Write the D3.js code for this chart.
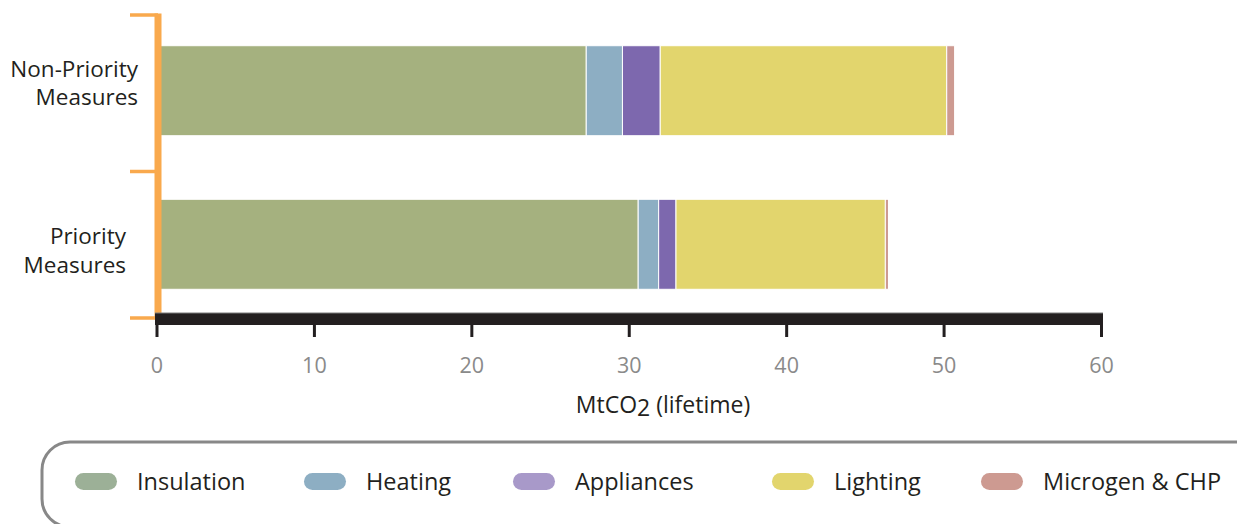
<!DOCTYPE html>
<html>
<head>
<meta charset="utf-8">
<script src="https://cdn.jsdelivr.net/npm/d3@7"></script>
<style>
  html, body { margin: 0; padding: 0; background: #fff; }
  svg { display: block; font-family: "Open Sans", "Noto Sans", sans-serif; }
</style>
</head>
<body>
<svg id="chart" width="1237" height="524"></svg>
<script>
// Lifetime carbon savings by measure group (MtCO2)
const categories = ["Non-Priority Measures", "Priority Measures"];
const seriesNames = ["Insulation", "Heating", "Appliances", "Lighting", "Microgen & CHP"];
const insulation = [27.3, 30.6];
const heating    = [2.3, 1.3];
const appliances = [2.4, 1.1];
const lighting   = [18.2, 13.3];
const microgen   = [0.5, 0.2];
const xTicks = [0, 10, 20, 30, 40, 50, 60];
const xDomain = [0, 60];

// styling
const barColors    = ["#a5b17f", "#8daec3", "#7d68ae", "#e2d56d", "#cd9a91"];
const legendColors = ["#9cb097", "#8daec3", "#a899c9", "#e2d56d", "#cd9a91"];
const legendX = [75, 304, 513, 772, 981];
const labelShift = [{dx: 0, dy: -14}, {dx: -12, dy: 0}];
const ink = "#231f20";
const orange = "#f9a94d";

const svg = d3.select("#chart");
const x = d3.scaleLinear().domain(xDomain).range([156.5, 1101]);
const y = d3.scaleBand().domain(categories).range([15, 320])
  .paddingInner(0.414).paddingOuter(0.2);

// stacked rows
const rows = categories.map((c, i) => ({
  category: c,
  Insulation: insulation[i],
  Heating: heating[i],
  Appliances: appliances[i],
  Lighting: lighting[i],
  "Microgen & CHP": microgen[i]
}));
const stacked = d3.stack().keys(seriesNames)(rows);

svg.append("g").selectAll("g")
  .data(stacked)
  .join("g")
  .attr("fill", (d, i) => barColors[i])
  .selectAll("rect")
  .data(d => d)
  .join("rect")
  .attr("x", d => x(d[0]))
  .attr("width", d => x(d[1]) - x(d[0]))
  .attr("y", d => y(d.data.category))
  .attr("height", y.bandwidth())
  .attr("stroke", "#fff")
  .attr("stroke-width", 1);

// bracket on the left
const yTop = y.range()[0], yBot = y.range()[1] - 2;
const yMid = (y(categories[0]) + y.bandwidth() + y(categories[1])) / 2 + 4;
const bx = 158;
const br = svg.append("g").attr("stroke", orange).attr("fill", "none");
br.append("line").attr("x1", bx).attr("x2", bx).attr("y1", yTop - 1.5).attr("y2", yBot + 1.5).attr("stroke-width", 7);
br.append("line").attr("x1", 130).attr("x2", bx).attr("y1", yTop).attr("y2", yTop).attr("stroke-width", 3.5);
br.append("line").attr("x1", 130).attr("x2", bx).attr("y1", yMid).attr("y2", yMid).attr("stroke-width", 3.5);
br.append("line").attr("x1", 130).attr("x2", bx).attr("y1", yBot).attr("y2", yBot).attr("stroke-width", 3.5);

// category labels
const lab = svg.append("g").attr("fill", ink).attr("font-size", 22.5).attr("text-anchor", "end");
categories.forEach((c, i) => {
  const words = c.split(" ");
  const cy = y(c) + y.bandwidth() / 2;
  const t = lab.append("text")
    .attr("x", 138 + labelShift[i].dx)
    .attr("y", cy + labelShift[i].dy);
  t.append("tspan").attr("x", 138 + labelShift[i].dx).text(words[0]);
  t.append("tspan").attr("x", 138 + labelShift[i].dx).attr("dy", 28.5).text(words.slice(1).join(" "));
});

// x axis: thick bar plus ticks
const axisY = 325;
svg.append("rect")
  .attr("x", x(0) - 1.5).attr("y", axisY - 12)
  .attr("width", x(60) - x(0) + 3.5).attr("height", 12)
  .attr("fill", ink);
svg.append("line")
  .attr("x1", x(0) - 1.5).attr("x2", x(60) + 2)
  .attr("y1", axisY - 12).attr("y2", axisY - 12)
  .attr("stroke", "#7a7a7a").attr("stroke-width", 1);

const axis = svg.append("g")
  .attr("transform", `translate(0,${axisY})`)
  .call(d3.axisBottom(x).tickValues(xTicks).tickSizeInner(12).tickSizeOuter(0).tickPadding(21));
axis.select(".domain").remove();
axis.selectAll(".tick line").attr("stroke", ink).attr("stroke-width", 3);
axis.selectAll(".tick text")
  .attr("fill", "#8a8a8a")
  .attr("font-size", 21.5)
  .attr("font-family", "\"Open Sans\", sans-serif");

// axis title
const title = svg.append("text")
  .attr("x", 663).attr("y", 413)
  .attr("text-anchor", "middle")
  .attr("fill", ink).attr("font-size", 23);
title.append("tspan").text("MtCO");
title.append("tspan").attr("dy", 3).text("2");
title.append("tspan").attr("dy", -3).text(" (lifetime)");

// legend
svg.append("rect")
  .attr("x", 42).attr("y", 442)
  .attr("width", 1300).attr("height", 85)
  .attr("rx", 28).attr("ry", 28)
  .attr("fill", "none").attr("stroke", "#888").attr("stroke-width", 3);

const leg = svg.append("g").selectAll("g")
  .data(seriesNames)
  .join("g")
  .attr("transform", (d, i) => `translate(${legendX[i]},0)`);
leg.append("rect")
  .attr("x", 0).attr("y", 473).attr("width", 42).attr("height", 17)
  .attr("rx", 8.5).attr("fill", (d, i) => legendColors[i]);
leg.append("text")
  .attr("x", 62).attr("y", 490)
  .attr("fill", ink).attr("font-size", 23.5)
  .text(d => d);
</script>
</body>
</html>
